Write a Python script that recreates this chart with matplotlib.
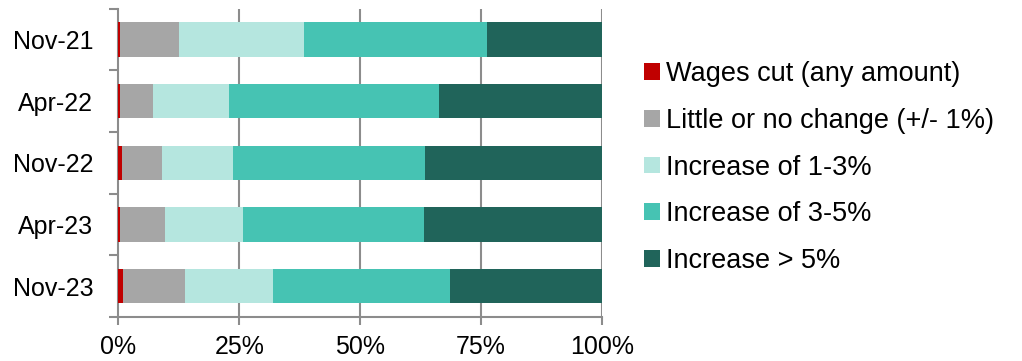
import numpy as np
import matplotlib.pyplot as plt
from matplotlib.patches import Patch

plt.rcParams['font.family'] = ['Liberation Sans', 'DejaVu Sans']

periods = ['Nov-21', 'Apr-22', 'Nov-22', 'Apr-23', 'Nov-23']
series = ['Wages cut (any amount)', 'Little or no change (+/- 1%)',
          'Increase of 1-3%', 'Increase of 3-5%', 'Increase > 5%']
wages_cut = [0.4, 0.35, 0.7, 0.35, 0.9]
no_change = [12.2, 6.8, 8.3, 9.25, 12.9]
inc_1_3 = [25.8, 15.7, 14.8, 16.2, 18.1]
inc_3_5 = [37.9, 43.4, 39.6, 37.4, 36.8]
inc_over_5 = [23.7, 33.75, 36.6, 36.8, 31.3]
colors = ['#C00000', '#A6A6A6', '#B5E6DF', '#46C3B3', '#20645A']

fig = plt.figure(figsize=(10.22, 3.61), dpi=100)
ax = fig.add_axes([0.1158, 0.1222, 0.4730, 0.8540])

y = np.arange(len(periods))
left = np.zeros(len(periods))
for vals, col in zip([wages_cut, no_change, inc_1_3, inc_3_5, inc_over_5], colors):
    ax.barh(y, vals, left=left, height=0.555, color=col, edgecolor='none', zorder=3)
    left += np.array(vals)

ax.set_xlim(0, 100)
ax.set_ylim(len(periods) - 0.5, -0.5)
ax.set_xticks([0, 25, 50, 75, 100])
ax.set_xticklabels(['0%', '25%', '50%', '75%', '100%'], fontsize=18)
ax.set_yticks(y)
ax.set_yticklabels(periods, fontsize=18)
ax.set_yticks(np.arange(-0.5, len(periods), 1), minor=True)

for x in [25, 50, 75, 100]:
    ax.axvline(x, color='#8C8C8C', lw=1.5, zorder=1)

for s in ['top', 'right']:
    ax.spines[s].set_visible(False)
for s in ['left', 'bottom']:
    ax.spines[s].set_color('#8C8C8C')
    ax.spines[s].set_linewidth(1.5)
ax.tick_params(axis='y', which='major', length=0, pad=18)
ax.tick_params(axis='y', which='minor', length=6.5, width=1.5, color='#8C8C8C')
ax.tick_params(axis='x', length=6, width=1.5, color='#8C8C8C', pad=7)

handles = [Patch(facecolor=c, edgecolor='none') for c in colors]
fig.legend(handles, series, loc='center left', bbox_to_anchor=(0.6196, 0.536),
           frameon=False, fontsize=19.5, handlelength=0.58, handleheight=0.58,
           handletextpad=0.22, labelspacing=0.76, borderaxespad=0)

fig.savefig('out.png', dpi=100)
